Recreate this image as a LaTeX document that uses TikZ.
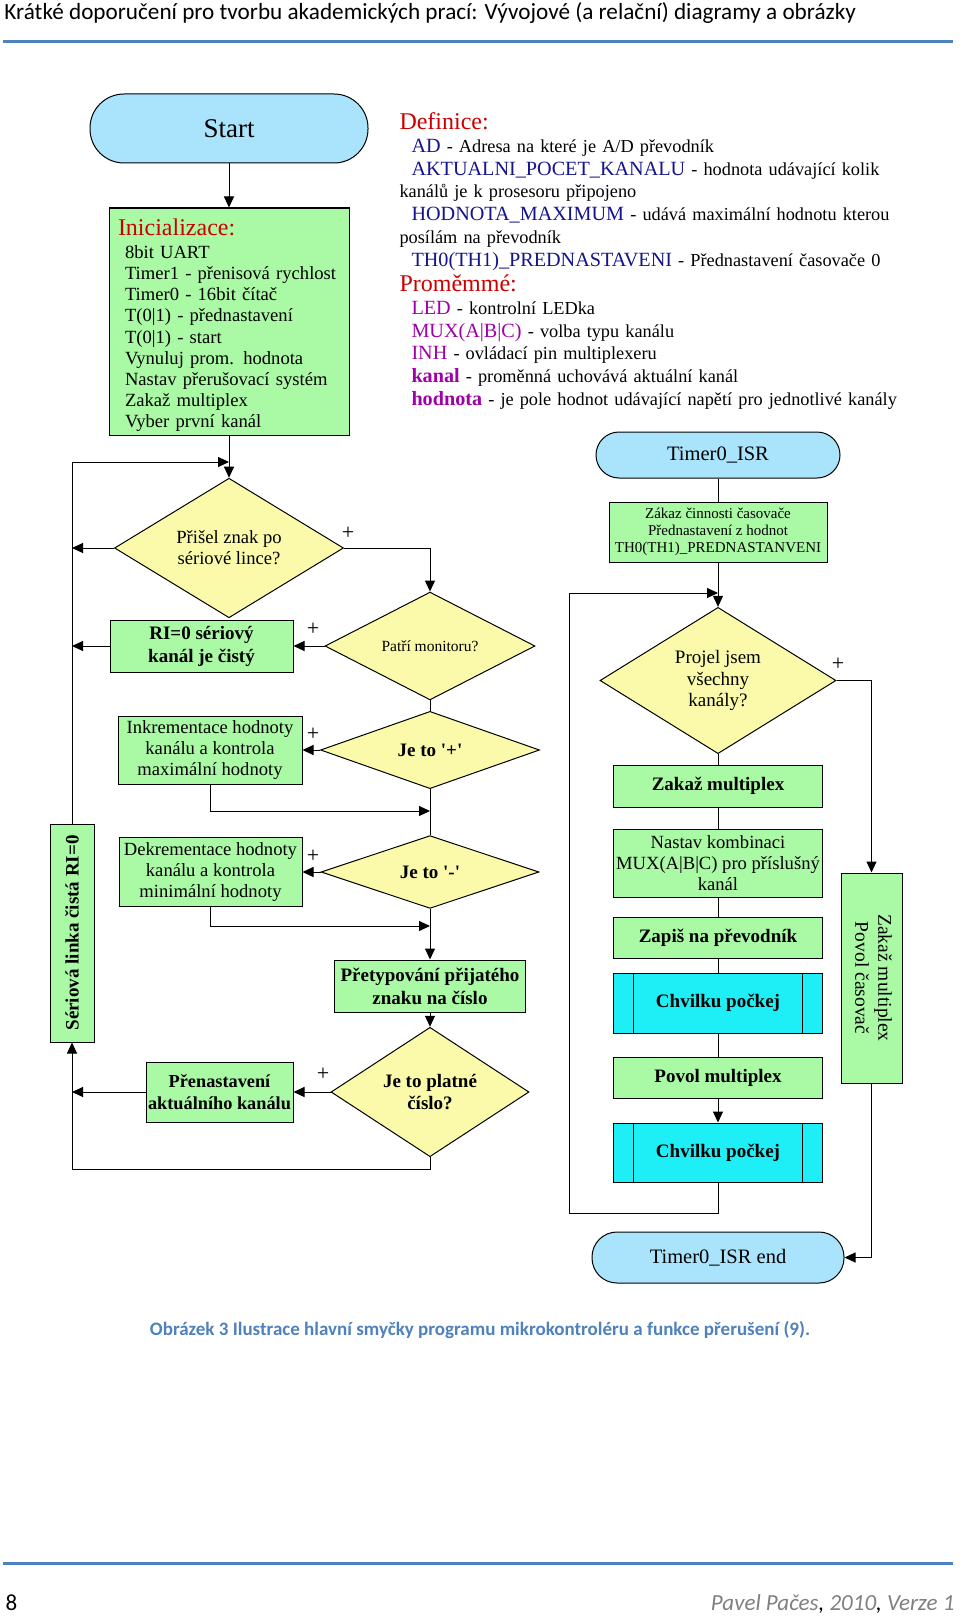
\documentclass[tikz,border=0pt]{standalone}
\usepackage{fontspec}
\setmainfont{Liberation Serif}
\newfontfamily\calibri{Carlito}
\usetikzlibrary{shapes.geometric,arrows.meta}

\definecolor{termblue}{RGB}{170,228,252}
\definecolor{boxgreen}{RGB}{170,250,165}
\definecolor{decyellow}{RGB}{250,250,170}
\definecolor{waitcyan}{RGB}{30,238,245}
\definecolor{hdrblue}{RGB}{79,129,189}
\definecolor{footgray}{RGB}{128,128,128}
\definecolor{titlered}{RGB}{204,0,0}
\definecolor{keyblue}{RGB}{20,20,140}
\definecolor{keypurple}{RGB}{160,0,170}

\newcommand{\keyfont}{\fontsize{20.2}{22.7}\selectfont}

\begin{document}
\begin{tikzpicture}[x=1pt, y=-1pt, line width=1pt,
    term/.style={draw, fill=termblue, inner sep=0pt, font=\fontsize{20.5}{22}\selectfont},
    box/.style={draw, fill=boxgreen, inner sep=0pt, align=center, font=\fontsize{18.6}{21}\selectfont},
    boldbox/.style={box, font=\bfseries\fontsize{19}{23}\selectfont},
    smallbox/.style={box, font=\fontsize{15}{17}\selectfont},
    waitbox/.style={boldbox, fill=waitcyan,
        path picture={
            \draw ([xshift=20pt]path picture bounding box.north west) -- ([xshift=20pt]path picture bounding box.south west);
            \draw ([xshift=-20pt]path picture bounding box.north east) -- ([xshift=-20pt]path picture bounding box.south east);
        }},
    dec/.style={diamond, draw, fill=decyellow, inner sep=0pt, align=center, font=\fontsize{18.6}{21}\selectfont},
    decb/.style={dec, font=\bfseries\fontsize{19}{22}\selectfont},
    plus/.style={inner sep=0pt, font=\fontsize{22}{22}\selectfont},
    arr/.style={-{Triangle[length=11pt, width=10pt]}}
]
    \fill [white] (0, 0) rectangle (960, 1616);
    \useasboundingbox (0, 0) rectangle (960, 1616);

    % page head
    \node[anchor=base west, inner sep=0pt, font=\calibri\fontsize{23.2}{25}\selectfont] (head) at (4, 20) {Krátké doporučení pro tvorbu akademických prací: Vývojové (a relační) diagramy a obrázky};
    \draw [hdrblue, line width=3pt] (3, 42) -- (953, 42);

    % main program
    \node[term, minimum width=278pt, minimum height=69pt, rounded corners=34pt, font=\fontsize{27}{29}\selectfont] (start) at (229, 128.5) {Start};
    \node[box, minimum width=240pt, minimum height=227pt, text width=222pt, align=left, font=\fontsize{18.6}{21.2}\selectfont] (init) at (229, 321.5) {{\color{titlered}\fontsize{24}{21.2}\selectfont\rule{0pt}{24pt}Inicializace:}\\[2pt]
        \hspace*{7pt}8bit UART\\
        \hspace*{7pt}Timer1 - přenisová rychlost\\
        \hspace*{7pt}Timer0 - 16bit čítač\\
        \hspace*{7pt}T(0|1) - přednastavení\\
        \hspace*{7pt}T(0|1) - start\\
        \hspace*{7pt}Vynuluj prom. hodnota\\
        \hspace*{7pt}Nastav přerušovací systém\\
        \hspace*{7pt}Zakaž multiplex\\
        \hspace*{7pt}Vyber první kanál};

    \node[dec, minimum width=229pt, minimum height=119pt] (d1) at (229, 548) {Přišel znak po\\sériové lince?};
    \node[dec, minimum width=210pt, minimum height=85pt, font=\fontsize{15.5}{17}\selectfont] (d2) at (430, 646) {Patří monitoru?};
    \node[decb, minimum width=219pt, minimum height=61pt] (d3) at (430, 750) {Je to \textquotesingle+\textquotesingle};
    \node[decb, minimum width=218pt, minimum height=62pt] (d4) at (430, 872) {Je to \textquotesingle-\textquotesingle};
    \node[decb, minimum width=198pt, minimum height=103pt] (d5) at (430, 1092) {Je to platné\\číslo?};

    \node[boldbox, minimum width=183pt, minimum height=52pt] (ri) at (201.5, 646) {RI=0 sériový\\kanál je čistý};
    \node[box, minimum width=184pt, minimum height=68pt] (ink) at (210, 750) {Inkrementace hodnoty\\kanálu a kontrola\\maximální hodnoty};
    \node[box, minimum width=183pt, minimum height=69pt] (dek) at (210.5, 872) {Dekrementace hodnoty\\kanálu a kontrola\\minimální hodnoty};
    \node[boldbox, minimum width=191pt, minimum height=52pt] (pret) at (430, 986) {Přetypování přijatého\\znaku na číslo};
    \node[boldbox, minimum width=147pt, minimum height=60pt, font=\bfseries\fontsize{18.3}{22.5}\selectfont] (pren) at (219.5, 1092) {Přenastavení\\aktuálního kanálu};
    \node[boldbox, minimum width=44pt, minimum height=218pt] (seri) at (72, 933) {\rotatebox{90}{Sériová linka čistá RI=0}};

    \node[plus] (p1) at (348, 533) {+};
    \node[plus] (p2) at (313, 629) {+};
    \node[plus] (p3) at (313, 734) {+};
    \node[plus] (p4) at (313, 856) {+};
    \node[plus] (p5) at (323, 1074) {+};

    \coordinate (j1) at (229, 462);
    \coordinate (j2) at (430, 811);
    \coordinate (j3) at (430, 926);
    \coordinate (j4) at (72, 1169);

    \draw [arr] (start.south) -- (init.north);
    \draw [arr] (init.south) -- (d1.north);
    \draw [arr] (seri.north) |- (j1);
    \draw [arr] (d1.west) -- (d1.west -| seri.north);
    \draw [arr] (d1.east) -| (d2.north);
    \draw [arr] (d2.west) -- (ri.east);
    \draw [arr] (ri.west) -- (ri.west -| seri.north);
    \draw (d2.south) -- (d3.north);
    \draw [arr] (d3.west) -- (ink.east);
    \draw [arr] (ink.south) |- (j2);
    \draw (d3.south) -- (d4.north);
    \draw [arr] (d4.west) -- (dek.east);
    \draw [arr] (dek.south) |- (j3);
    \draw [arr] (d4.south) -- (pret.north);
    \draw [arr] (pret.south) -- (d5.north);
    \draw [arr] (d5.west) -- (pren.east);
    \draw [arr] (pren.west) -- (pren.west -| seri.north);
    \draw [arr] (d5.south) |- (j4) -- (seri.south);

    % definitions
    \node[anchor=north west, inner sep=0pt, text width=540pt, align=left, font=\fontsize{18.3}{22.7}\selectfont] (defs) at (399, 112.5) {{\color{titlered}\fontsize{24}{22.7}\selectfont Definice:}\\
        \hspace*{12pt}\textcolor{keyblue}{\keyfont AD} - Adresa na které je A/D převodník\\
        \hspace*{12pt}\textcolor{keyblue}{\keyfont AKTUALNI\_POCET\_KANALU} - hodnota udávající kolik\\
        kanálů je k prosesoru připojeno\\
        \hspace*{12pt}\textcolor{keyblue}{\keyfont HODNOTA\_MAXIMUM} - udává maximální hodnotu kterou\\
        posílám na převodník\\
        \hspace*{12pt}\textcolor{keyblue}{\keyfont TH0(TH1)\_PREDNASTAVENI} - Přednastavení časovače 0\\[3pt]
        {\color{titlered}\fontsize{24}{22.7}\selectfont Proměmmé:}\\
        \hspace*{12pt}\textcolor{keypurple}{\keyfont LED} - kontrolní LEDka\\
        \hspace*{12pt}\textcolor{keypurple}{\keyfont MUX(A|B|C)} - volba typu kanálu\\
        \hspace*{12pt}\textcolor{keypurple}{\keyfont INH} - ovládací pin multiplexeru\\
        \hspace*{12pt}\textcolor{keypurple}{\keyfont\bfseries kanal} - proměnná uchovává aktuální kanál\\
        \hspace*{12pt}\textcolor{keypurple}{\keyfont\bfseries hodnota} - je pole hodnot udávající napětí pro jednotlivé kanály};

    % interrupt routine
    \node[term, minimum width=244pt, minimum height=46pt, rounded corners=23pt] (isr) at (718, 455) {Timer0\_ISR};
    \node[smallbox, minimum width=218pt, minimum height=60pt] (zakaz) at (718, 532) {Zákaz činnosti časovače\\Přednastavení z hodnot\\TH0(TH1)\_PREDNASTANVENI};
    \node[dec, minimum width=236pt, minimum height=135pt, font=\fontsize{19}{21.5}\selectfont] (d6) at (718, 680.5) {Projel jsem\\všechny\\kanály?};
    \node[boldbox, minimum width=209pt, minimum height=42pt] (zm) at (718, 786) {Zakaž multiplex};
    \node[box, minimum width=209pt, minimum height=68pt] (nast) at (718, 863) {Nastav kombinaci\\MUX(A|B|C) pro příslušný\\kanál};
    \node[boldbox, minimum width=209pt, minimum height=41pt] (zap) at (718, 937.5) {Zapiš na převodník};
    \node[waitbox, minimum width=209pt, minimum height=60pt] (ch1) at (718, 1003) {Chvilku počkej};
    \node[boldbox, minimum width=209pt, minimum height=41pt] (pm) at (718, 1077.5) {Povol multiplex};
    \node[waitbox, minimum width=209pt, minimum height=59pt] (ch2) at (718, 1152.5) {Chvilku počkej};
    \node[box, minimum width=61pt, minimum height=210pt, font=\fontsize{19.5}{23}\selectfont] (zp) at (871.5, 978) {\rotatebox{-90}{\begin{tabular}{@{}c@{}}Zakaž multiplex\\Povol časovač\end{tabular}}};
    \node[term, minimum width=252pt, minimum height=51pt, rounded corners=25pt] (isrend) at (718, 1257.5) {Timer0\_ISR end};
    \node[plus] (p6) at (838, 664) {+};

    \coordinate (k1) at (569, 1213);
    \coordinate (k2) at (718, 593);

    \draw (isr.south) -- (zakaz.north);
    \draw [arr] (zakaz.south) -- (d6.north);
    \draw [arr] (ch2.south) |- (k1) |- (k2);
    \draw [arr] (d6.east) -| (zp.north);
    \draw (d6.south) -- (zm.north);
    \draw (zm.south) -- (nast.north);
    \draw (nast.south) -- (zap.north);
    \draw (zap.south) -- (ch1.north);
    \draw (ch1.south) -- (pm.north);
    \draw [arr] (pm.south) -- (ch2.north);
    \draw [arr] (zp.south) |- (isrend.east);

    % caption and page foot
    \node[font=\calibri\bfseries\fontsize{19}{21}\selectfont, text=hdrblue] (cap) at (480, 1330) {Obrázek 3 Ilustrace hlavní smyčky programu mikrokontroléru a funkce přerušení (9).};
    \draw [hdrblue, line width=3pt] (3, 1563) -- (953, 1563);
    \node[anchor=base west, inner sep=0pt, font=\calibri\fontsize{23}{25}\selectfont] (pg) at (5, 1610) {8};
    \node[anchor=base east, inner sep=0pt, font=\calibri\itshape\fontsize{23}{25}\selectfont, text=footgray] (auth) at (955, 1610) {Pavel Pačes\textcolor{black}{,} 2010\textcolor{black}{,} Verze 1};
\end{tikzpicture}
\end{document}
